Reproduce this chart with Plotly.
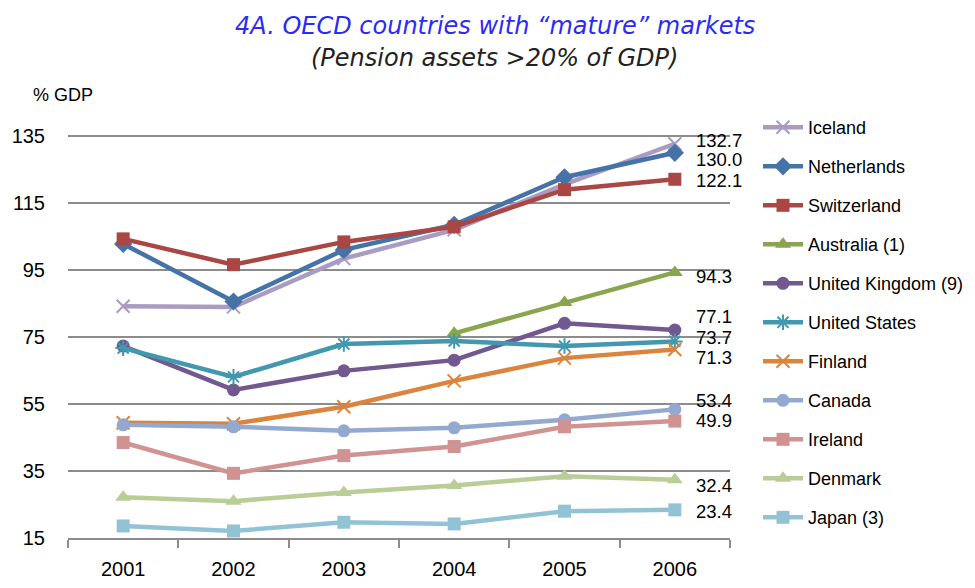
import plotly.graph_objects as go

# 数据
years = ["2001", "2002", "2003", "2004", "2005", "2006"]

iceland = [84.2, 84.0, 98.4, 107.0, 120.6, 132.7]
netherlands = [102.8, 85.6, 101.0, 108.5, 122.7, 130.0]
switzerland = [104.3, 96.6, 103.4, 107.9, 119.0, 122.1]
australia = [None, None, None, 76.1, 85.3, 94.3]
united_kingdom = [72.3, 59.2, 64.9, 68.1, 79.1, 77.1]
united_states = [71.7, 63.1, 72.9, 73.8, 72.3, 73.7]
finland = [49.4, 49.1, 54.2, 61.9, 68.7, 71.3]
canada = [48.8, 48.2, 47.0, 47.9, 50.3, 53.4]
ireland = [43.5, 34.3, 39.6, 42.3, 48.2, 49.9]
denmark = [27.2, 26.0, 28.6, 30.7, 33.4, 32.4]
japan = [18.6, 17.1, 19.7, 19.2, 23.0, 23.4]

y_ticks = [15, 35, 55, 75, 95, 115, 135]

series = [
    ("Iceland", iceland, "#A99BC2", "x-thin-open"),
    ("Netherlands", netherlands, "#4572A7", "diamond"),
    ("Switzerland", switzerland, "#AA4643", "square"),
    ("Australia (1)", australia, "#89A54E", "triangle-up"),
    ("United Kingdom (9)", united_kingdom, "#71588F", "circle"),
    ("United States", united_states, "#4198AF", "asterisk-open"),
    ("Finland", finland, "#DB843D", "x-thin-open"),
    ("Canada", canada, "#93A9CF", "circle"),
    ("Ireland", ireland, "#D19392", "square"),
    ("Denmark", denmark, "#B9CD96", "triangle-up"),
    ("Japan (3)", japan, "#92C3D5", "square"),
]

# 标签的竖直偏移（避免重叠）
label_shift = [3, -7, -1, -4, 13, 4, -8, 9, 1, -6, -2]

FONT = "Liberation Sans"

fig = go.Figure()
for name, vals, color, sym in series:
    open_sym = sym.endswith("open")
    size = 14 if sym in ("triangle-up", "diamond") else 13
    fig.add_trace(go.Scatter(
        x=years, y=vals, name=name, mode="lines+markers",
        legendgroup=name,
        line=dict(color=color, width=4.5),
        marker=dict(symbol=sym, size=size, color=color,
                    line=dict(color=color, width=2 if open_sym else 0)),
    ))

# 2006 数据标签（类别轴用索引定位）
last = len(years) - 1
for (name, vals, color, sym), dy in zip(series, label_shift):
    fig.add_annotation(
        x=last, y=vals[-1], text=f"{vals[-1]:.1f}",
        xanchor="left", yanchor="middle", xshift=19, yshift=dy,
        showarrow=False, font=dict(family=FONT, size=18.5, color="black"),
    )

fig.add_annotation(
    x=0.645, y=1, xref="paper", yref="paper", xanchor="center", yanchor="middle",
    yshift=100,
    text="<i>4A. OECD countries with “mature” markets</i>",
    showarrow=False, font=dict(family="DejaVu Sans", size=24, color="#2B2BF5"),
)
fig.add_annotation(
    x=0.645, y=1, xref="paper", yref="paper", xanchor="center", yanchor="middle",
    yshift=68,
    text="<i>(Pension assets >20% of GDP)</i>",
    showarrow=False, font=dict(family="DejaVu Sans", size=24, color="#222222"),
)
fig.add_annotation(
    x=0, y=1, xref="paper", yref="paper", xanchor="center", yanchor="middle",
    xshift=-5, yshift=31,
    text="% GDP", showarrow=False,
    font=dict(family=FONT, size=18, color="black"),
)

fig.update_layout(
    width=959, height=572,
    margin=dict(l=60, r=237, t=118, b=42, autoexpand=False),
    plot_bgcolor="white", paper_bgcolor="white",
    font=dict(family=FONT, color="black"),
    legend=dict(
        x=1.0423, y=1.041, xanchor="left", yanchor="top",
        font=dict(family=FONT, size=18), tracegroupgap=12.6,
        itemwidth=40, maxheight=470,
    ),
    xaxis=dict(
        type="category", range=[-0.5, 5.5],
        showline=True, linecolor="#8C8C8C", linewidth=1.5,
        ticks="outside", tickson="boundaries", ticklen=8, tickcolor="#8C8C8C",
        tickwidth=1.5, showgrid=False, tickfont=dict(size=20),
        ticklabelstandoff=12, automargin=False,
    ),
    yaxis=dict(
        range=[15, 138], tickvals=y_ticks, showgrid=True,
        gridcolor="#8C8C8C", gridwidth=1.5, zeroline=False,
        showline=False, ticks="", tickfont=dict(size=20), ticklabelstandoff=22,
        automargin=False,
    ),
)

fig.write_html("out.html")
